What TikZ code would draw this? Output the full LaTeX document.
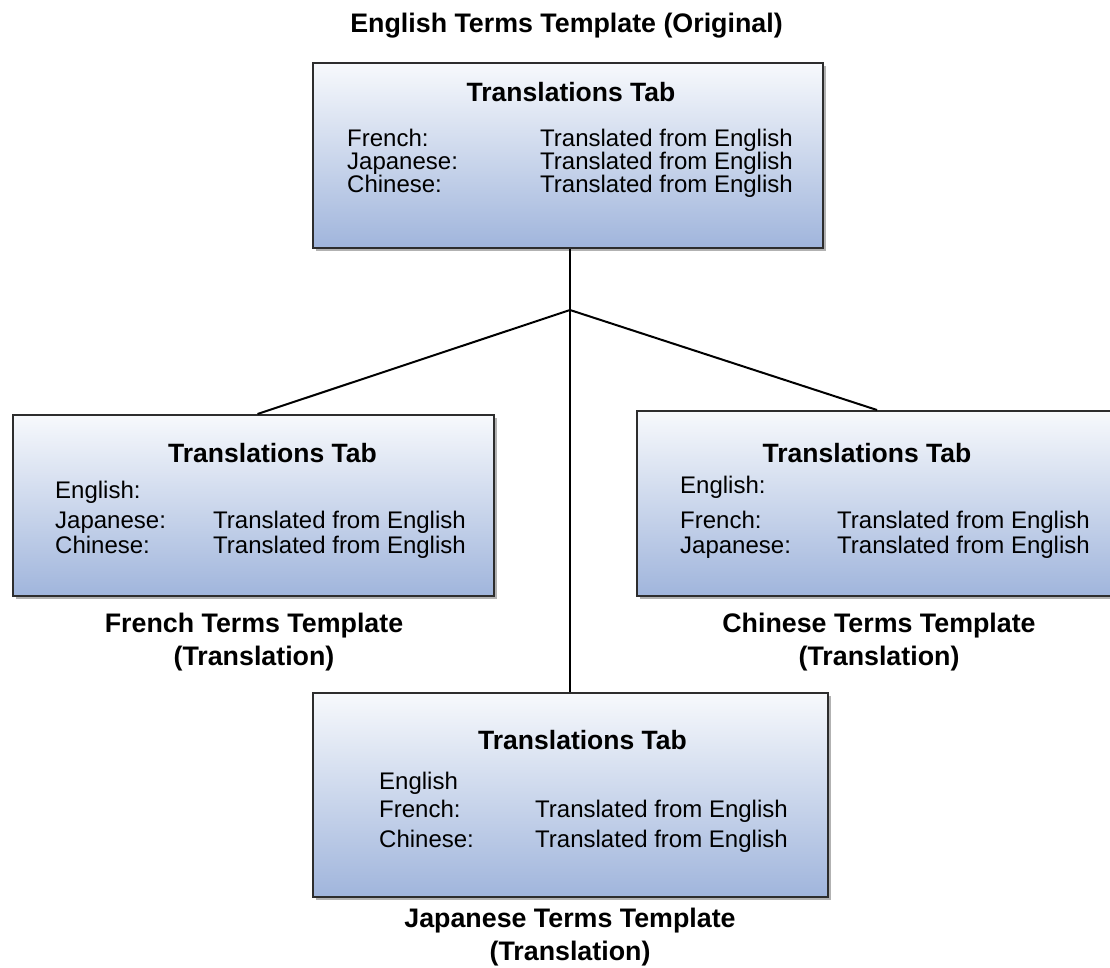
\documentclass[tikz,border=0pt]{standalone}
\usepackage{fontspec}
\setmainfont{Liberation Sans}
\usepackage{tikz}
\usetikzlibrary{positioning,calc,shadows}

\definecolor{boxtop}{RGB}{247,249,252}
\definecolor{boxbot}{RGB}{160,181,220}
\definecolor{boxline}{RGB}{45,45,45}

\tikzset{
  tabbox/.style={draw=boxline, line width=2pt, inner sep=0pt,
    top color=boxtop, bottom color=boxbot,
    drop shadow={shadow xshift=3pt, shadow yshift=-3pt, fill=black, opacity=0.3}},
  tabtitle/.style={anchor=base, inner sep=0pt, font=\fontsize{26.5}{26.5}\selectfont\bfseries},
  rowtxt/.style={anchor=base west, inner sep=0pt, font=\fontsize{24}{24}\selectfont},
  caption/.style={anchor=base, inner sep=0pt, align=center, font=\fontsize{26.8}{33}\selectfont\bfseries},
  link/.style={draw=black, line width=2pt}
}

\begin{document}
\begin{tikzpicture}[x=1pt, y=-1pt]
      \useasboundingbox (0,0) rectangle (1110,968);

      % Boxes
      \node[tabbox, minimum width=510pt, minimum height=185pt] (enbox) at (568,155.5) {};
      \node[tabbox, minimum width=481pt, minimum height=181pt] (frbox) at (253.5,505.5) {};
      \node[tabbox, minimum width=477pt, minimum height=185pt] (chbox) at (875.5,503.5) {};
      \node[tabbox, minimum width=515pt, minimum height=204pt] (jabox) at (570.5,795) {};

      % English (original)
      \node[caption] (entitle) at (566.5,33) {English Terms Template (Original)};
      \node[tabtitle] (entab) at (571,102) {Translations Tab};
      \node[rowtxt] (enfr) at (347,147) {\makebox[193pt][l]{French:}Translated from English};
      \node[rowtxt] (enja) at (347,170) {\makebox[193pt][l]{Japanese:}Translated from English};
      \node[rowtxt] (ench) at (347,193) {\makebox[193pt][l]{Chinese:}Translated from English};

      % French
      \node[tabtitle] (frtab) at (272.5,462) {Translations Tab};
      \node[rowtxt] (fren) at (55,498) {English:};
      \node[rowtxt] (frja) at (55,528) {\makebox[158pt][l]{Japanese:}Translated from English};
      \node[rowtxt] (frch) at (55,553) {\makebox[158pt][l]{Chinese:}Translated from English};
      \node[caption] (frtitle) at (254,665) {French Terms Template\\(Translation)};

      % Chinese
      \node[tabtitle] (chtab) at (867,462) {Translations Tab};
      \node[rowtxt] (chen) at (680,493) {English:};
      \node[rowtxt] (chfr) at (680,528) {\makebox[157pt][l]{French:}Translated from English};
      \node[rowtxt] (chja) at (680,553) {\makebox[157pt][l]{Japanese:}Translated from English};
      \node[caption] (chtitle) at (879,665) {Chinese Terms Template\\(Translation)};

      % Japanese
      \node[tabtitle] (jatab) at (582.5,749) {Translations Tab};
      \node[rowtxt] (jaen) at (379,789) {English};
      \node[rowtxt] (jafr) at (379,817) {\makebox[156pt][l]{French:}Translated from English};
      \node[rowtxt] (jach) at (379,847) {\makebox[156pt][l]{Chinese:}Translated from English};
      \node[caption] (jatitle) at (570,960) {Japanese Terms Template\\(Translation)};

      % Edges
      \coordinate (split) at (570,310);
      \draw[link] (split |- enbox.south) -- (split |- jabox.north);
      \draw[link] ($(frbox.north)+(4,0)$) -- (split) -- ($(chbox.north)+(1.5,0)$);
    \end{tikzpicture}
\end{document}
